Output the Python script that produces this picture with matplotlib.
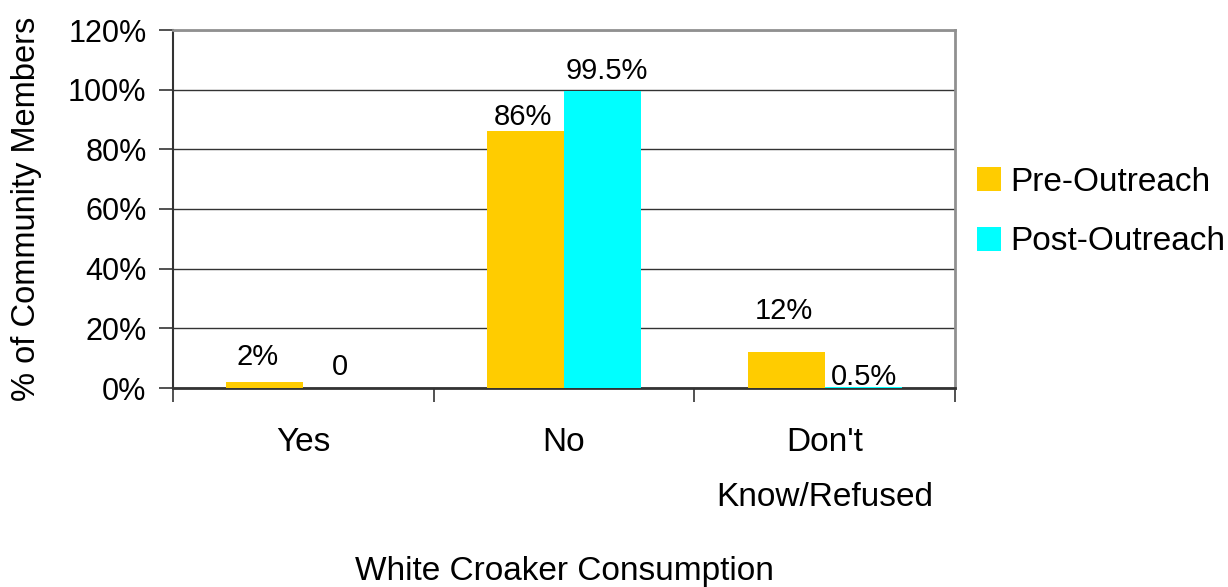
import matplotlib
matplotlib.use("Agg")
import matplotlib.pyplot as plt
from matplotlib.ticker import FuncFormatter
from matplotlib.patches import Patch

# ---- data ----
categories = ["Yes", "No", "Don't\nKnow/Refused"]
series_names = ["Pre-Outreach", "Post-Outreach"]
pre_values = [2, 86, 12]
post_values = [0, 99.5, 0.5]
pre_labels = ["2%", "86%", "12%"]
post_labels = ["0", "99.5%", "0.5%"]
y_ticks = [0, 20, 40, 60, 80, 100, 120]
x_title = "White Croaker Consumption"
y_title = "% of Community Members"

# ---- style ----
plt.rcParams["font.family"] = ["Liberation Sans", "DejaVu Sans"]
FS = 24
pre_color = "#FFCC00"
post_color = "#00FFFF"
bar_w = 0.295

# label offsets (pixels) from bar top
pre_off = [(-7, 25), (-3, 14), (-2, 41)]
post_off = [(-2, 21), (4, 20), (1, 10)]

W, H = 1228, 587
fig = plt.figure(figsize=(W / 100, H / 100), dpi=100)
ax = fig.add_axes([173 / W, 1 - 388 / H, (955 - 173) / W, (388 - 30) / H])

x = list(range(len(categories)))
xp = [i - bar_w / 2 for i in x]
xq = [i + bar_w / 2 for i in x]
ax.bar(xp, pre_values, width=bar_w, color=pre_color, zorder=3, linewidth=0)
ax.bar(xq, post_values, width=bar_w, color=post_color, zorder=3, linewidth=0)

px2pt = 0.72
for xi, v, lab, off in zip(xp, pre_values, pre_labels, pre_off):
    ax.annotate(lab, (xi, v), xytext=(off[0] * px2pt, off[1] * px2pt),
                textcoords="offset points", ha="center", va="center",
                fontsize=21, zorder=4)
for xi, v, lab, off in zip(xq, post_values, post_labels, post_off):
    ax.annotate(lab, (xi, v), xytext=(off[0] * px2pt, off[1] * px2pt),
                textcoords="offset points", ha="center", va="center",
                fontsize=21, zorder=4)

ax.set_xlim(-0.5, len(categories) - 0.5)
ax.set_ylim(0, 120)
ax.set_yticks(y_ticks)
ax.yaxis.set_major_formatter(FuncFormatter(lambda v, p: f"{int(v)}%"))
ax.grid(axis="y", color="#333333", linewidth=1.0, zorder=0)

ax.set_xticks(x)
ax.set_xticklabels(categories, fontsize=FS, linespacing=2.0)
ax.set_xticks([i - 0.5 for i in range(len(categories) + 1)], minor=True)
ax.tick_params(axis="x", which="major", length=0, pad=28)
ax.tick_params(axis="x", which="minor", length=10, width=1.2, color="#333333",
               direction="out")
ax.tick_params(axis="y", which="major", length=10, width=1.2, color="#333333",
               direction="out", pad=9, labelsize=22)

ax.spines["left"].set_color("#333333")
ax.spines["left"].set_linewidth(1.5)
ax.spines["bottom"].set_color("#333333")
ax.spines["bottom"].set_linewidth(2.0)
ax.spines["top"].set_color("#909090")
ax.spines["top"].set_linewidth(2.0)
ax.spines["right"].set_color("#909090")
ax.spines["right"].set_linewidth(2.0)

ax.set_xlabel(x_title, fontsize=FS)
ax.xaxis.set_label_coords(0.5, -0.47)
ax.set_ylabel(y_title, fontsize=23.5)
ax.yaxis.set_label_coords(-0.168, 0.5)

handles = [Patch(facecolor=pre_color, edgecolor="none"),
           Patch(facecolor=post_color, edgecolor="none")]
fig.legend(handles, series_names, loc="upper left",
           bbox_to_anchor=(977 / W, 1 - 167 / H), frameon=False,
           fontsize=FS, handlelength=0.72, handleheight=0.72,
           handletextpad=0.27, labelspacing=0.85, borderpad=0,
           borderaxespad=0)

fig.savefig("out.png", dpi=100)
